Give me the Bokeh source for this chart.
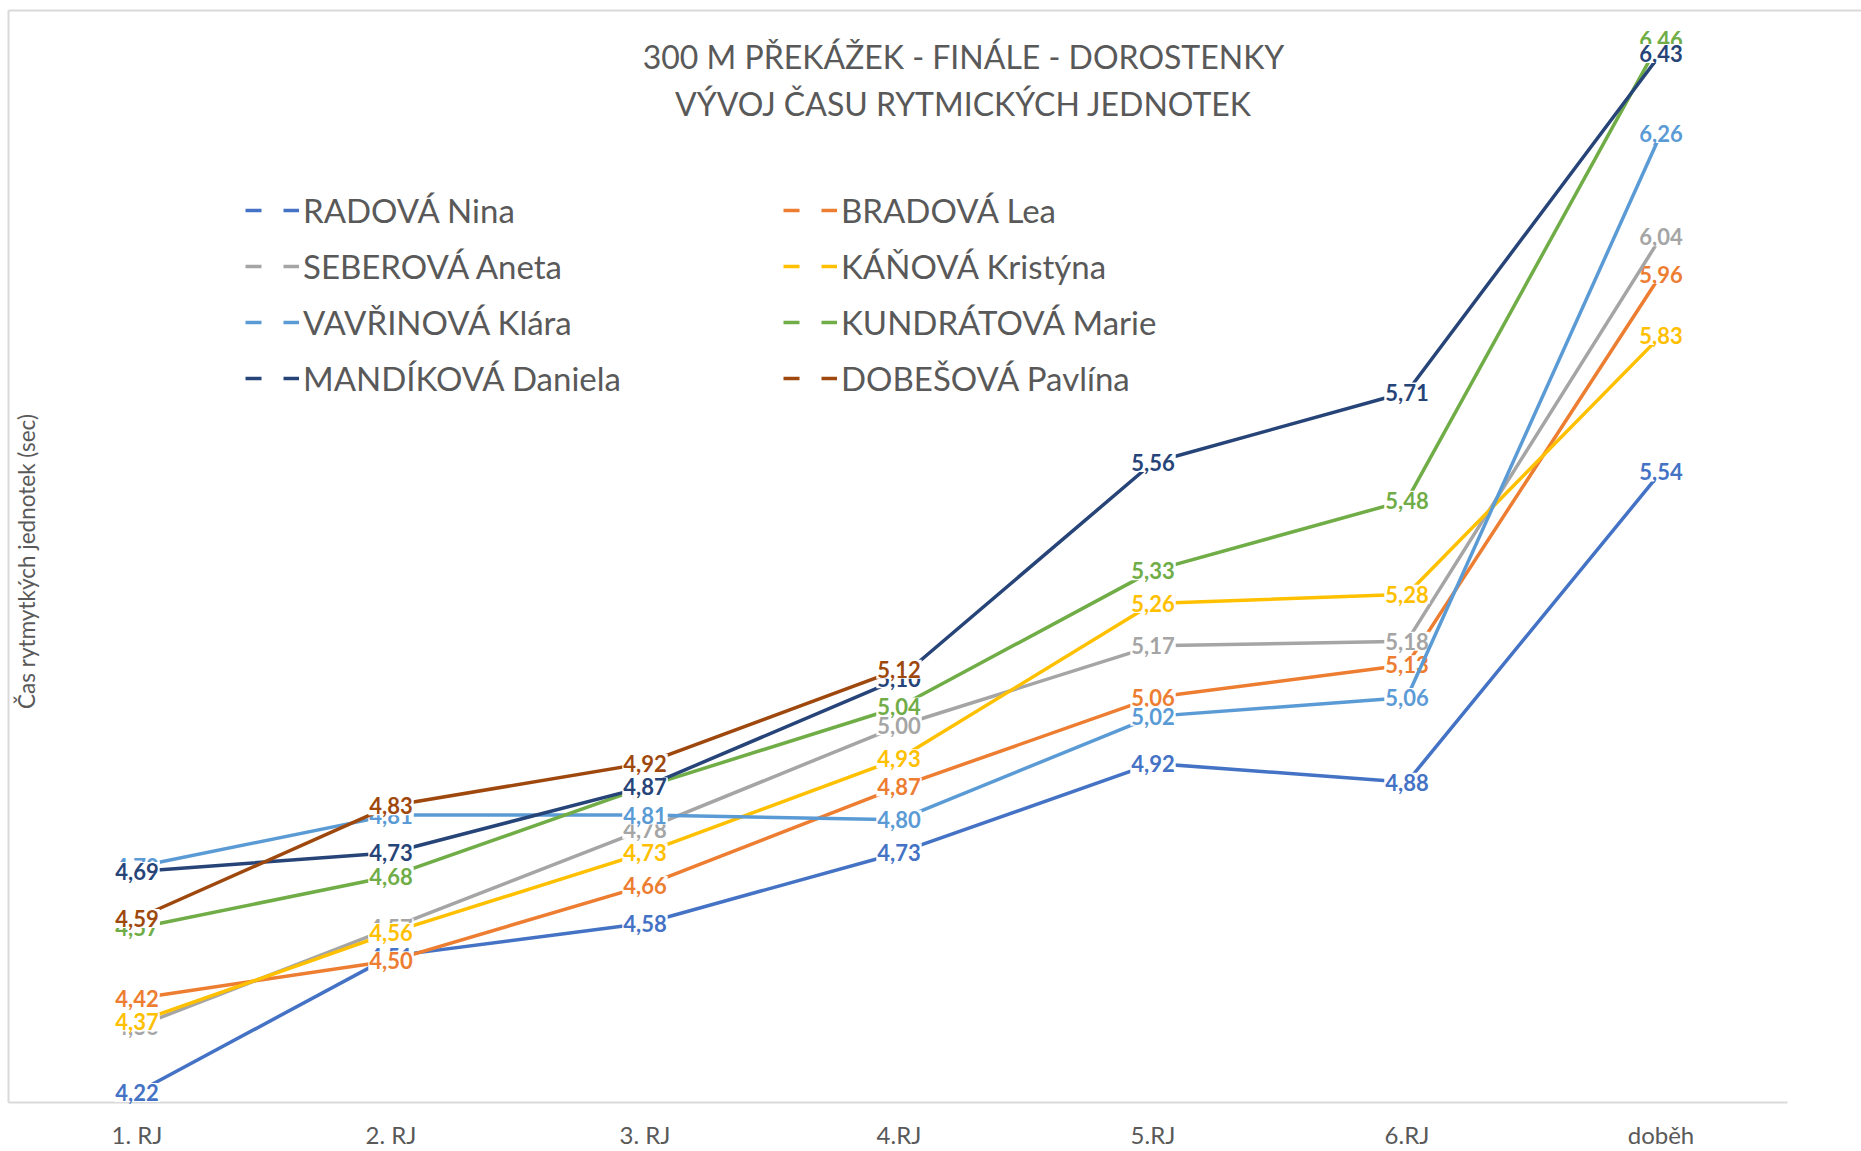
import math
from bokeh.plotting import figure
from bokeh.models import (Range1d, FixedTicker, LinearAxis, Legend, LegendItem,
                          Label, ColumnDataSource)
from bokeh.core.properties import value
from bokeh.embed import file_html
from bokeh.resources import INLINE

# ---------------- data ----------------
categories = ["1. RJ", "2. RJ", "3. RJ", "4.RJ", "5.RJ", "6.RJ", "doběh"]

names = ["RADOVÁ Nina", "BRADOVÁ Lea", "SEBEROVÁ Aneta", "KÁŇOVÁ Kristýna",
         "VAVŘINOVÁ Klára", "KUNDRÁTOVÁ Marie", "MANDÍKOVÁ Daniela", "DOBEŠOVÁ Pavlína"]

radova = [4.22, 4.51, 4.58, 4.73, 4.92, 4.88, 5.54]
bradova = [4.42, 4.50, 4.66, 4.87, 5.06, 5.13, 5.96]
seberova = [4.36, 4.57, 4.78, 5.00, 5.17, 5.18, 6.04]
kanova = [4.37, 4.56, 4.73, 4.93, 5.26, 5.28, 5.83]
vavrinova = [4.70, 4.81, 4.81, 4.80, 5.02, 5.06, 6.26]
kundratova = [4.57, 4.68, 4.87, 5.04, 5.33, 5.48, 6.46]
mandikova = [4.69, 4.73, 4.87, 5.10, 5.56, 5.71, 6.43]
dobesova = [4.59, 4.83, 4.92, 5.12, None, None, None]

series = [radova, bradova, seberova, kanova, vavrinova, kundratova, mandikova, dobesova]
colors = ["#4472C4", "#ED7D31", "#A5A5A5", "#FFC000",
          "#5B9BD5", "#70AD47", "#264478", "#9E480E"]

title_lines = ["300 M PŘEKÁŽEK - FINÁLE - DOROSTENKY", "VÝVOJ ČASU RYTMICKÝCH JEDNOTEK"]
y_title = "Čas rytmytkých jednotek (sec)"

# ---------------- figure ----------------
FONT = "Lato"
GRAY = "#595959"
BORDER = "#D9D9D9"
LW = 3.5

p = figure(width=1861, height=1151, output_backend="svg", toolbar_location=None,
           x_range=Range1d(-0.5059, 6.7894), y_range=Range1d(4.1986, 6.5216),
           min_border_left=8, min_border_right=0, min_border_top=10, min_border_bottom=48)
p.grid.visible = False
p.outline_line_color = None
p.background_fill_color = "white"
p.border_fill_color = "white"

xs = list(range(len(categories)))

# x axis (category labels)
xa = p.xaxis[0]
xa.ticker = FixedTicker(ticks=xs)
xa.major_label_overrides = {i: c for i, c in enumerate(categories)}
xa.axis_line_color = BORDER
xa.axis_line_width = 2
xa.bounds = (-0.5059, 6.5)
xa.major_tick_line_color = None
xa.minor_tick_line_color = None
xa.major_tick_out = 0
xa.minor_tick_out = 0
xa.major_label_standoff = 17
xa.major_label_text_font = FONT
xa.major_label_text_font_size = "24px"
xa.major_label_text_color = GRAY

# y axis: only its line, as the left border
ya = p.yaxis[0]
ya.ticker = FixedTicker(ticks=[])
ya.axis_line_color = BORDER
ya.axis_line_width = 2
ya.major_tick_line_color = None
ya.minor_tick_line_color = None
ya.major_tick_out = 0
ya.minor_tick_out = 0
ya.major_label_standoff = 0
ya.major_label_text_font_size = "0px"

top_axis = LinearAxis(ticker=FixedTicker(ticks=[]), axis_line_color=BORDER, axis_line_width=2,
                      major_tick_line_color=None, minor_tick_line_color=None,
                      major_tick_out=0, minor_tick_out=0, major_label_standoff=0,
                      major_label_text_font_size="0px")
p.add_layout(top_axis, "above")

# ---------------- series ----------------
legend_dummies = []
for name, vals, col in zip(names, series, colors):
    yv = [float("nan") if v is None else v for v in vals]
    r = p.line(xs, yv, line_color=col, line_width=LW)
    r.level = "overlay"
    lx = [x for x, v in zip(xs, vals) if v is not None]
    ly = [v for v in vals if v is not None]
    lt = [f"{v:.2f}".replace(".", ",") for v in ly]
    src = ColumnDataSource(dict(x=lx, y=ly, t=lt))
    tr = p.text(x="x", y="y", text="t", source=src,
                text_font=value(FONT), text_font_size=value("22px"), text_font_style="bold",
                text_color=col, text_align="center", text_baseline="middle",
                background_fill_color="white", padding=1)
    tr.level = "overlay"
    d = p.line(x=[float("nan")], y=[float("nan")], line_color=col, line_width=LW,
               line_dash="16 22")
    legend_dummies.append(d)

# ---------------- legend (two columns) ----------------
def make_legend(idx, x0):
    items = [LegendItem(label=names[i], renderers=[legend_dummies[i]]) for i in idx]
    return Legend(items=items, location=(x0, 704), orientation="vertical",
                  glyph_width=54, glyph_height=40, label_height=40, spacing=16,
                  padding=0, margin=0, label_standoff=4,
                  border_line_color=None, background_fill_alpha=0,
                  label_text_font=FONT, label_text_font_size="33px",
                  label_text_color=GRAY)

p.add_layout(make_legend([0, 2, 4, 6], 237))
p.add_layout(make_legend([1, 3, 5, 7], 775))

# ---------------- titles ----------------
for txt, yy in zip(title_lines, [1046, 999]):
    p.add_layout(Label(x=955, y=yy, x_units="screen", y_units="screen", text=txt,
                       text_font=FONT, text_font_size="32px", text_color=GRAY,
                       text_align="center", text_baseline="middle"))

p.add_layout(Label(x=18, y=541, x_units="screen", y_units="screen", text=y_title,
                   angle=math.pi / 2, text_font=FONT, text_font_size="22.5px",
                   text_color=GRAY, text_align="center", text_baseline="middle"))

open("out.html", "w").write(file_html(p, INLINE))
